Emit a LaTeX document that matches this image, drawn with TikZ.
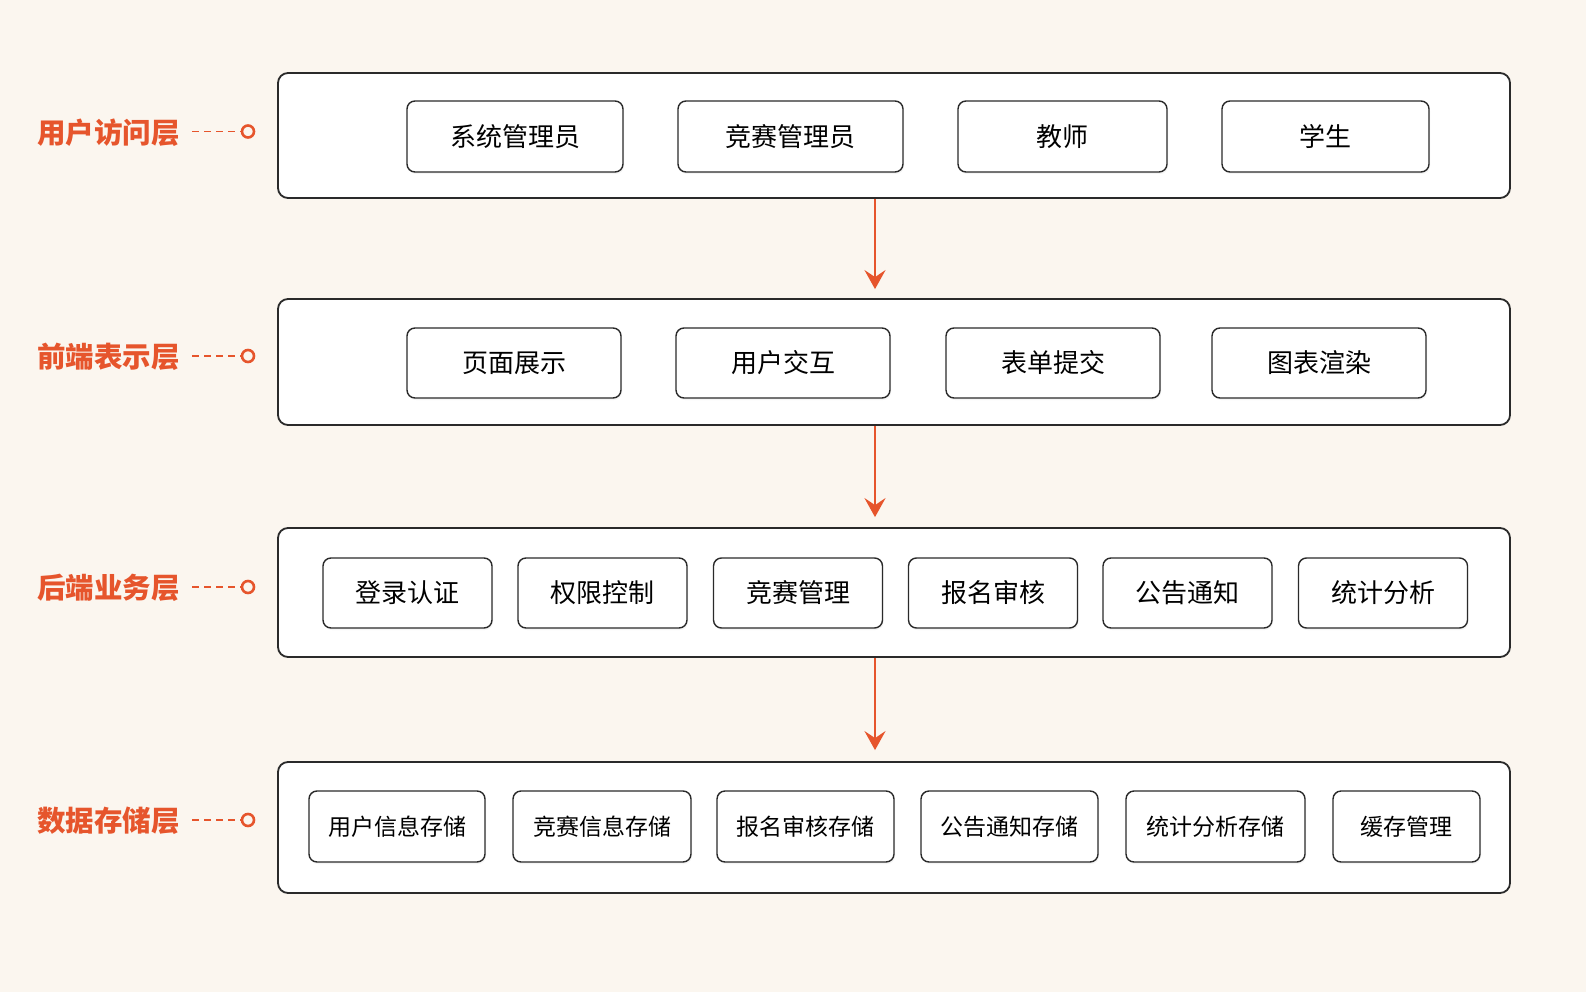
\documentclass[tikz,border=0pt]{standalone}
\usepackage{fontspec}
\setmainfont{Noto Sans CJK SC}
\usetikzlibrary{arrows.meta,shadows}
\definecolor{bgc}{HTML}{FBF6EF}
\definecolor{accent}{HTML}{E6552C}
\definecolor{edge}{HTML}{2A2A2A}
\tikzset{
  layerbox/.style={draw=edge, line width=1.8pt, rounded corners=10pt, fill=white, minimum width=1232pt, inner sep=0pt},
  itembox/.style={draw=edge, line width=1.4pt, rounded corners=8pt, fill=white, inner sep=0pt,
    drop shadow={opacity=0.08, shadow xshift=1pt, shadow yshift=-2pt},
    font=\fontsize{26}{30}\selectfont},
  smallitem/.style={itembox, font=\fontsize{23}{27}\selectfont},
  layerlabel/.style={anchor=east, text=accent, font=\fontsize{28.5}{32}\selectfont\bfseries, inner sep=0pt},
  dot/.style={circle, draw=accent, line width=2.6pt, fill=bgc, minimum size=12pt, inner sep=0pt},
  leader/.style={draw=accent, line width=1.8pt, dash pattern=on 7pt off 5pt},
  arr/.style={draw=accent, line width=2.4pt, -{Stealth[length=19pt,width=21pt,inset=7pt]}}
}
\begin{document}
\begin{tikzpicture}[x=1pt,y=-1pt]
\fill[bgc] (0,0) rectangle (1586,992);
\useasboundingbox (0,0) rectangle (1586,992);

% layers
\node[layerbox, minimum height=125pt] (l1) at (894,135.5) {};
\node[layerbox, minimum height=126pt] (l2) at (894,362) {};
\node[layerbox, minimum height=129pt] (l3) at (894,592.5) {};
\node[layerbox, minimum height=131pt] (l4) at (894,827.5) {};

% row 1
\node[itembox, minimum width=216pt, minimum height=71pt] (a1) at (515,136.5) {系统管理员};
\node[itembox, minimum width=225pt, minimum height=71pt] (a2) at (790.5,136.5) {竞赛管理员};
\node[itembox, minimum width=209pt, minimum height=71pt] (a3) at (1062.5,136.5) {教师};
\node[itembox, minimum width=207pt, minimum height=71pt] (a4) at (1325.5,136.5) {学生};

% row 2
\node[itembox, minimum width=214pt, minimum height=70pt] (b1) at (514,363) {页面展示};
\node[itembox, minimum width=214pt, minimum height=70pt] (b2) at (783,363) {用户交互};
\node[itembox, minimum width=214pt, minimum height=70pt] (b3) at (1053,363) {表单提交};
\node[itembox, minimum width=214pt, minimum height=70pt] (b4) at (1319,363) {图表渲染};

% row 3
\node[itembox, minimum width=169pt, minimum height=70pt] (c1) at (407.5,593) {登录认证};
\node[itembox, minimum width=169pt, minimum height=70pt] (c2) at (602.5,593) {权限控制};
\node[itembox, minimum width=169pt, minimum height=70pt] (c3) at (798,593) {竞赛管理};
\node[itembox, minimum width=169pt, minimum height=70pt] (c4) at (993,593) {报名审核};
\node[itembox, minimum width=169pt, minimum height=70pt] (c5) at (1187.5,593) {公告通知};
\node[itembox, minimum width=169pt, minimum height=70pt] (c6) at (1383,593) {统计分析};

% row 4
\node[smallitem, minimum width=176pt, minimum height=71pt] (d1) at (397,826.5) {用户信息存储};
\node[smallitem, minimum width=178pt, minimum height=71pt] (d2) at (602,826.5) {竞赛信息存储};
\node[smallitem, minimum width=177pt, minimum height=71pt] (d3) at (805.5,826.5) {报名审核存储};
\node[smallitem, minimum width=177pt, minimum height=71pt] (d4) at (1009.5,826.5) {公告通知存储};
\node[smallitem, minimum width=179pt, minimum height=71pt] (d5) at (1215.5,826.5) {统计分析存储};
\node[smallitem, minimum width=147pt, minimum height=71pt] (d6) at (1406.5,826.5) {缓存管理};

% labels
\node[layerlabel] (t1) at (180,133) {用户访问层};
\node[layerlabel] (t2) at (180,357) {前端表示层};
\node[layerlabel] (t3) at (180,588) {后端业务层};
\node[layerlabel] (t4) at (180,821) {数据存储层};
\node[dot] (o1) at (248,131.5) {};
\node[dot] (o2) at (248,356) {};
\node[dot] (o3) at (248,587) {};
\node[dot] (o4) at (248,820) {};
\draw[leader] ([xshift=12pt]t1.east |- o1) -- (o1.west);
\draw[leader] ([xshift=12pt]t2.east |- o2) -- (o2.west);
\draw[leader] ([xshift=12pt]t3.east |- o3) -- (o3.west);
\draw[leader] ([xshift=12pt]t4.east |- o4) -- (o4.west);

% arrows
\draw[arr] ([xshift=-19pt]l1.south) -- ([xshift=-19pt,yshift=9pt]l2.north);
\draw[arr] ([xshift=-19pt]l2.south) -- ([xshift=-19pt,yshift=10pt]l3.north);
\draw[arr] ([xshift=-19pt]l3.south) -- ([xshift=-19pt,yshift=11pt]l4.north);
\end{tikzpicture}
\end{document}
